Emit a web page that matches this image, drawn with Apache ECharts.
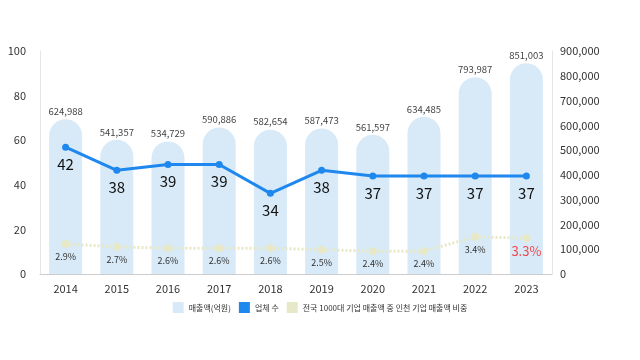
<!DOCTYPE html>
<html><head><meta charset="utf-8">
<script src="https://cdn.jsdelivr.net/npm/echarts@6/dist/echarts.min.js"></script>
<style>html,body{margin:0;padding:0;background:#fff}#c{width:640px;height:360px}</style>
</head><body><div id="c"></div>
<script>
const years = ['2014','2015','2016','2017','2018','2019','2020','2021','2022','2023'];
const sales = [624988,541357,534729,590886,582654,587473,561597,634485,793987,851003];
const companies = [42,38,39,39,34,38,37,37,37,37];
const share = [2.9,2.7,2.6,2.6,2.6,2.5,2.4,2.4,3.4,3.3];
const leftTicks = [0,20,40,60,80,100];
const seriesNames = ['매출액(억원)','업체 수','전국 1000대 기업 매출액 중 인천 기업 매출액 비중'];

const font = '"Noto Sans CJK KR", "Noto Sans", sans-serif';
const chart = echarts.init(document.getElementById('c'));
chart.setOption({
  animation: false,
  textStyle: {fontFamily: font},
  grid: {left: 40, right: 88, top: 51, bottom: 86},
  legend: {
    bottom: 42, left: 'center', itemWidth: 11, itemHeight: 11, itemGap: 8,
    icon: 'rect',
    textStyle: {fontSize: 8, color: '#333', fontFamily: font},
    data: seriesNames
  },
  xAxis: {
    type: 'category', data: years,
    axisLine: {lineStyle: {color: '#ccc'}},
    axisTick: {show: false},
    axisLabel: {color: '#333', fontSize: 11, margin: 9}
  },
  yAxis: [
    {type: 'value', min: leftTicks[0], max: leftTicks[leftTicks.length-1], interval: 20, position: 'left',
     axisLine: {show: true, lineStyle: {color: '#e6e6e6'}}, splitLine: {show: false},
     axisLabel: {color: '#333', fontSize: 11, margin: 14}},
    {type: 'value', min: 0, max: 900000, interval: 100000, position: 'right',
     axisLine: {show: true, lineStyle: {color: '#e6e6e6'}}, splitLine: {show: false},
     axisLabel: {color: '#333', fontSize: 11, margin: 8, formatter: v => v.toLocaleString('en-US')}},
    {type: 'value', min: 20, max: 58.7, show: false},
    {type: 'value', min: 0.8, max: 16.4, show: false}
  ],
  series: [
    {name: seriesNames[0], type: 'bar', yAxisIndex: 1, data: sales, barWidth: 33,
     itemStyle: {color: '#d8eaf7', borderRadius: [17,17,0,0]},
     label: {show: true, position: 'top', distance: 3, fontSize: 9.5, color: '#444',
       formatter: p => p.value.toLocaleString('en-US')}},
    {name: seriesNames[1], type: 'line', yAxisIndex: 2, data: companies, z: 5,
     symbol: 'circle', symbolSize: 7,
     lineStyle: {color: '#1e88ef', width: 3}, itemStyle: {color: '#1e88ef'},
     label: {show: true, position: 'bottom', distance: 6, fontSize: 15, color: '#111'}},
    {name: seriesNames[2], type: 'line', yAxisIndex: 3, z: 4,
     data: share.map((v, i) => i === share.length - 1 ? {value: v, label: {color: '#f0484b', fontSize: 13, distance: 2}} : v),
     symbol: 'circle', symbolSize: 8,
     lineStyle: {color: '#e6e8c8', width: 3, type: [2, 2]}, itemStyle: {color: '#e6e8c8'},
     label: {show: true, position: 'bottom', distance: 4, fontSize: 9, color: '#333', formatter: p => p.value + '%'}}
  ]
});
</script></body></html>
